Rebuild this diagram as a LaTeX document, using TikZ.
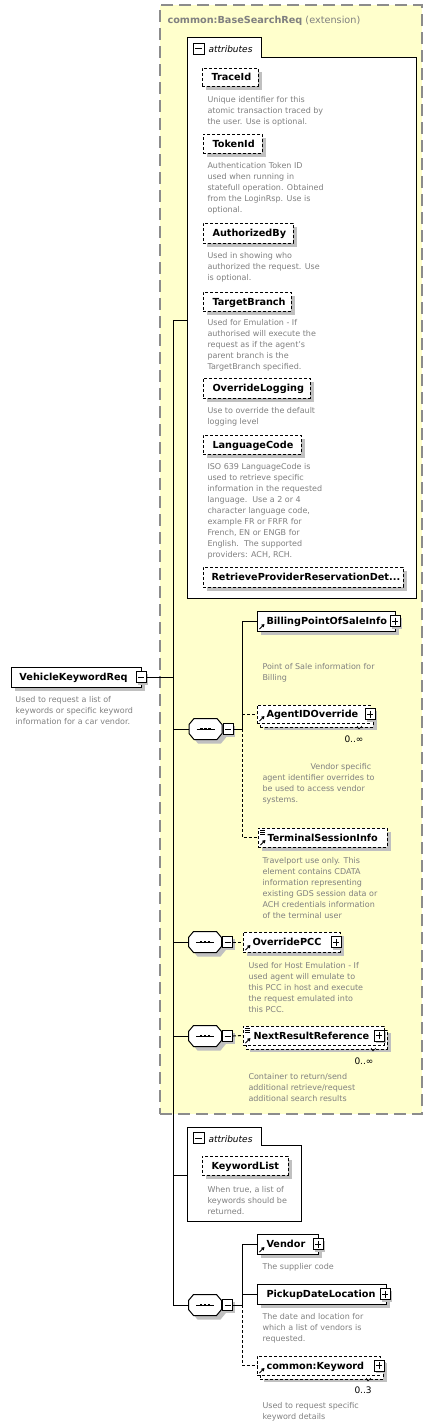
\documentclass[tikz,border=0pt]{standalone}
\usepackage{fontspec}
\setmainfont{DejaVu Sans}
\usetikzlibrary{shadows,arrows.meta,fit}
\definecolor{shgray}{HTML}{C0C0C0}
\definecolor{txtgray}{HTML}{808080}
\definecolor{extfill}{HTML}{FFFFCC}
\definecolor{extline}{HTML}{8C8C8C}
% sequence compositor: octagon with dots
\newcommand{\seqoct}[3]{%
 \node[inner sep=0pt,minimum width=33pt,minimum height=21pt] (#1) at (#2,#3) {};
 \fill[shgray] ([xshift=4pt,yshift=-4pt]#1.center) +(-16.5pt,-4.5pt) -- +(-11.5pt,-10.5pt) -- +(11.5pt,-10.5pt) -- +(16.5pt,-4.5pt) -- +(16.5pt,4.5pt) -- +(11.5pt,10.5pt) -- +(-11.5pt,10.5pt) -- +(-16.5pt,4.5pt) -- cycle;
 \draw[line width=1pt,fill=white] (#1.center) +(-16.5pt,-4.5pt) -- +(-11.5pt,-10.5pt) -- +(11.5pt,-10.5pt) -- +(16.5pt,-4.5pt) -- +(16.5pt,4.5pt) -- +(11.5pt,10.5pt) -- +(-11.5pt,10.5pt) -- +(-16.5pt,4.5pt) -- cycle;
 \draw[line width=1pt] ([xshift=-9pt]#1.center) -- ([xshift=9pt]#1.center);
 \foreach \dx in {-4,0,4} \fill ([xshift=\dx pt]#1.center) +(-1.3pt,-1.3pt) rectangle +(1.3pt,1.3pt);
}
\begin{document}
\begin{tikzpicture}[x=1pt,y=-1pt,line width=1pt,
 conn/.style={draw=black,line width=1pt},
 optconn/.style={conn,dash pattern=on 3pt off 2pt},
 ebase/.style={draw=black,line width=1pt,fill=white,inner sep=0pt,outer sep=0pt},
 ebox/.style={ebase,drop shadow={shadow xshift=4pt,shadow yshift=-4pt,fill=shgray,opacity=1}},
 optbox/.style={dash pattern=on 3pt off 2pt},
 emulti/.style={ebase,optbox,
   general shadow={shadow xshift=7pt,shadow yshift=-7pt,fill=shgray,opacity=1},
   general shadow={shadow xshift=3pt,shadow yshift=-4pt,fill=white,draw=black,line width=1pt,dash pattern=on 3pt off 2pt,opacity=1}},
 lbl/.style={font=\bfseries\fontsize{9.7}{11}\selectfont,inner sep=0pt,text height=7pt,text depth=0pt,anchor=west},
 desc/.style={font=\fontsize{8}{11}\selectfont,text=txtgray,align=left,inner sep=0pt,anchor=north west,yshift=6.2pt,execute at begin node={\rule{0pt}{6.2pt}}},
 occ/.style={font=\fontsize{9}{11}\selectfont,inner sep=0pt,anchor=base west},
 btn/.style={draw=black,line width=1pt,fill=white,minimum width=10pt,minimum height=11pt,inner sep=0pt},
 btnsh/.style={btn,drop shadow={shadow xshift=2pt,shadow yshift=-2pt,fill=shgray,opacity=1}},
 plusb/.style={path picture={\draw[line width=1pt] ([xshift=2pt]path picture bounding box.west) -- ([xshift=-2pt]path picture bounding box.east); \draw[line width=1pt] ([yshift=-2pt]path picture bounding box.north) -- ([yshift=2pt]path picture bounding box.south);}},
 minusb/.style={path picture={\draw[line width=1pt] ([xshift=2pt]path picture bounding box.west) -- ([xshift=-2pt]path picture bounding box.east);}},
 refarr/.style={-{Triangle[length=3pt,width=3.5pt]},line width=1pt},
 attric/.style={line width=0.8pt},
 tabtxt/.style={font=\itshape\fontsize{9}{11}\selectfont,inner sep=0pt,anchor=base west}
]
\useasboundingbox (0,0) rectangle (440,1427);

% extension region
\node[draw=extline,dash pattern=on 12pt off 6pt,line width=1.2pt,fill=extfill,inner sep=0pt,fit={(160,5) (422,1114)}] (ext) {};
\node[inner sep=0pt,anchor=base west,text=txtgray,font=\fontsize{9.7}{11}\selectfont] (exttitle) at (167,23.5) {\textbf{common:BaseSearchReq} (extension)};

% spine
\coordinate (sptop) at (173,320);
\coordinate (spbot) at (173,1305);
\draw[conn] (sptop) -- (spbot);

% attributes group 1
\node[inner sep=0pt,fit={(188,38) (261,58)}] (tab1) {};
\node[inner sep=0pt,fit={(188,58) (416,598)}] (abox1) {};
\draw[conn,fill=white] (tab1.south west) |- (tab1.north east) |- (abox1.north east) |- (abox1.south west) -- cycle;
\node[btn,minusb,minimum width=11pt] (tm1) at (198.5,48.5) {};
\node[tabtxt] (ta1) at (208,52) {attributes};
\draw[conn] (sptop) -- (sptop -| abox1.west);

\node[ebox,optbox,fit={(202,68) (258,86)}] (traceid) {};
\node[lbl] (traceidL) at ([xshift=9pt]traceid.west) {TraceId};
\node[desc] (dtrace) at (207,102) {Unique identifier for this\\atomic transaction traced by\\the user. Use is optional.};

\node[ebox,optbox,fit={(203,134) (262,153)}] (tokenid) {};
\node[lbl] (tokenidL) at ([xshift=9pt]tokenid.west) {TokenId};
\node[desc] (dtoken) at (207,168) {Authentication Token ID\\used when running in\\statefull operation. Obtained\\from the LoginRsp. Use is\\optional.};

\node[ebox,optbox,fit={(203,223) (293,243)}] (authby) {};
\node[lbl] (authbyL) at ([xshift=9pt]authby.west) {AuthorizedBy};
\node[desc] (dauth) at (207,258) {Used in showing who\\authorized the request. Use\\is optional.};

\node[ebox,optbox,fit={(203,292) (291,311)}] (tbranch) {};
\node[lbl] (tbranchL) at ([xshift=9pt]tbranch.west) {TargetBranch};
\node[desc] (dtarget) at (207,325) {Used for Emulation - If\\authorised will execute the\\request as if the agent's\\parent branch is the\\TargetBranch specified.};

\node[ebox,optbox,fit={(203,378) (310,398)}] (ovlog) {};
\node[lbl] (ovlogL) at ([xshift=9pt]ovlog.west) {OverrideLogging};
\node[desc] (dovlog) at (207,413) {Use to override the default\\logging level};

\node[ebox,optbox,fit={(203,435) (301,454)}] (langc) {};
\node[lbl] (langcL) at ([xshift=9pt]langc.west) {LanguageCode};
\node[desc] (dlang) at (207,469) {ISO 639 LanguageCode is\\used to retrieve specific\\information in the requested\\language.\ \ Use a 2 or 4\\character language code,\\example FR or FRFR for\\French, EN or ENGB for\\English.\ \ The supported\\providers: ACH, RCH.};

\node[ebox,optbox,fit={(203,567) (403,587)}] (rprd) {};
\node[lbl] (rprdL) at ([xshift=8pt]rprd.west) {RetrieveProviderReservationDet...};

% main element
\node[ebox,fit={(11,667) (141,687)}] (main) {};
\node[lbl] (mainL) at ([xshift=8pt]main.west) {VehicleKeywordReq};
\node[btnsh,minusb] (mainm) at (main.east) {};
\node[desc] (dmain) at (15,702) {Used to request a list of\\keywords or specific keyword\\information for a car vendor.};
\draw[conn] (mainm.east) -- (mainm.east -| sptop);

% sequence 1
\seqoct{s1}{205.5}{729}
\node[btnsh,minusb,anchor=west] (s1m) at (s1.east) {};
\draw[conn] (s1.west -| sptop) -- (s1.west);
\coordinate (v1) at (242,729);
\draw[conn] (s1m.east) -- (v1);

\node[ebox,fit={(257,611) (395,631)}] (bill) {};
\node[lbl] (billL) at ([xshift=9pt]bill.west) {BillingPointOfSaleInfo};
\node[btnsh,plusb] (billp) at (bill.east) {};
\draw[refarr] ([xshift=2.5pt,yshift=2pt]bill.south west) -- ++(5pt,5pt);
\node[desc] (dbill) at (262,669) {Point of Sale information for\\Billing};

\node[emulti,fit={(257,705) (370,723)}] (agent) {};
\node[lbl] (agentL) at ([xshift=9pt]agent.west) {AgentIDOverride};
\node[btnsh,plusb] (agentp) at (agent.east) {};
\draw[refarr] ([xshift=2.5pt,yshift=2pt]agent.south west) -- ++(5pt,5pt);
\draw[line width=0.6pt] (357,726) -- (359,729) -- (362,726);
\node[occ] (oagent) at (344,742) {0..∞};
\node[desc] (dagent) at (262,769) {\hspace*{48pt}Vendor specific\\agent identifier overrides to\\be used to access vendor\\systems.};

\node[ebox,optbox,fit={(258,828) (387,847)}] (term) {};
\node[lbl] (termL) at ([xshift=9pt]term.west) {TerminalSessionInfo};
\draw[refarr] ([xshift=2.5pt,yshift=2pt]term.south west) -- ++(5pt,5pt);
\foreach \k in {2,4,6} \draw[attric] ([xshift=2pt,yshift=-\k pt]term.north west) -- ++(5pt,0pt);
\node[desc] (dterm) at (262,863) {Travelport use only. This\\element contains CDATA\\information representing\\existing GDS session data or\\ACH credentials information\\of the terminal user};

\draw[conn] (v1) |- (bill.west);
\draw[optconn] (v1) |- (term.west);
\draw[optconn] (agent.west -| v1) -- (agent.west);

% sequence 2
\seqoct{s2}{205}{942}
\node[btnsh,minusb,anchor=west] (s2m) at (s2.east) {};
\draw[conn] (s2.west -| sptop) -- (s2.west);
\node[ebox,optbox,fit={(243,932) (340,952)}] (opcc) {};
\node[lbl] (opccL) at ([xshift=9pt]opcc.west) {OverridePCC};
\node[btnsh,plusb] (opccp) at ([xshift=-4pt]opcc.east) {};
\draw[refarr] ([xshift=2.5pt,yshift=2pt]opcc.south west) -- ++(5pt,5pt);
\draw[optconn] (s2m.east) -- (opcc.west);
\node[desc] (dopcc) at (248,968) {Used for Host Emulation - If\\used agent will emulate to\\this PCC in host and execute\\the request emulated into\\this PCC.};

% sequence 3
\seqoct{s3}{205}{1036}
\node[btnsh,minusb,anchor=west] (s3m) at (s3.east) {};
\draw[conn] (s3.west -| sptop) -- (s3.west);
\node[emulti,fit={(243,1026) (384,1045)}] (nextr) {};
\node[lbl] (nextrL) at ([xshift=10pt]nextr.west) {NextResultReference};
\node[btnsh,plusb] (nextrp) at ([xshift=-5pt]nextr.east) {};
\draw[refarr] ([xshift=2.5pt,yshift=2pt]nextr.south west) -- ++(5pt,5pt);
\foreach \k in {2,4,6} \draw[attric] ([xshift=2pt,yshift=-\k pt]nextr.north west) -- ++(5pt,0pt);
\draw[line width=0.6pt] (371,1048) -- (373,1051) -- (376,1048);
\draw[optconn] (s3m.east) -- (nextr.west);
\node[occ] (onext) at (354,1064) {0..∞};
\node[desc] (dnext) at (248,1079) {Container to return/send\\additional retrieve/request\\additional search results};

% attributes group 2
\node[inner sep=0pt,fit={(188,1128) (261,1146)}] (tab2) {};
\node[inner sep=0pt,fit={(188,1146) (301,1221)}] (abox2) {};
\draw[conn,fill=white] (tab2.south west) |- (tab2.north east) |- (abox2.north east) |- (abox2.south west) -- cycle;
\node[btn,minusb,minimum width=11pt] (tm2) at (198.5,1138) {};
\node[tabtxt] (ta2) at (208,1142) {attributes};
\coordinate (sp2) at (173,1175);
\draw[conn] (sp2) -- (sp2 -| abox2.west);
\node[ebox,optbox,fit={(202,1156) (288,1175)}] (keyl) {};
\node[lbl] (keylL) at ([xshift=9pt]keyl.west) {KeywordList};
\node[desc] (dkeyl) at (207,1192) {When true, a list of\\keywords should be\\returned.};

% sequence 4
\seqoct{s4}{205}{1305}
\node[btnsh,minusb,anchor=west] (s4m) at (s4.east) {};
\draw[conn] (spbot) -- (s4.west);
\coordinate (v4) at (242,1305);
\draw[conn] (s4m.east) -- (v4);

\node[ebox,fit={(257,1234) (318,1254)}] (vendor) {};
\node[lbl] (vendorL) at ([xshift=9pt]vendor.west) {Vendor};
\node[btnsh,plusb] (vendorp) at (vendor.east) {};
\draw[refarr] ([xshift=2.5pt,yshift=2pt]vendor.south west) -- ++(5pt,5pt);
\node[desc] (dvendor) at (262,1269) {The supplier code};

\node[ebox,fit={(257,1284) (386,1304)}] (pick) {};
\node[lbl] (pickL) at ([xshift=9pt]pick.west) {PickupDateLocation};
\node[btnsh,plusb] (pickp) at ([xshift=-1pt]pick.east) {};
\node[desc] (dpick) at (262,1319) {The date and location for\\which a list of vendors is\\requested.};

\node[emulti,fit={(257,1356) (380,1375)}] (kw) {};
\node[lbl] (kwL) at ([xshift=9pt]kw.west) {common:Keyword};
\node[btnsh,plusb] (kwp) at ([xshift=-1pt]kw.east) {};
\draw[refarr] ([xshift=2.5pt,yshift=2pt]kw.south west) -- ++(5pt,5pt);
\draw[line width=0.6pt] (366,1378) -- (368,1381) -- (371,1378);
\node[occ] (okw) at (354,1393) {0..3};
\node[desc] (dkw) at (262,1408) {Used to request specific\\keyword details};

\draw[conn] (v4) |- (vendor.west);
\draw[conn] (pick.west -| v4) -- (pick.west);
\draw[optconn] (v4) |- (kw.west);
\end{tikzpicture}
\end{document}
